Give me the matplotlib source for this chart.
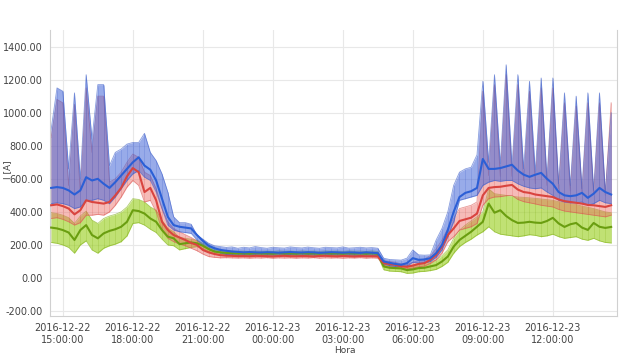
import numpy as np
import pandas as pd
import matplotlib
matplotlib.use('Agg')
import matplotlib.pyplot as plt
import matplotlib.dates as mdates
from matplotlib.ticker import FuncFormatter

# 15 min samples, 2016-12-22 14:30 -> 2016-12-23 14:30
t = pd.date_range('2016-12-22 14:30', periods=97, freq='15min')

# blue series (mean / low / high)
blue_mean = [545, 550, 545, 530, 505, 530, 610, 590, 600, 570, 545, 580, 620, 660, 700, 730, 680, 655, 590, 480,
             370, 320, 310, 305, 300, 260, 225, 195, 180, 170,
             165, 160, 158, 155, 157, 155, 154, 156, 155, 153, 155, 157, 155, 154, 156, 155, 152, 154, 156, 155,
             153, 155, 154, 152, 155, 153, 150,
             100, 92, 85, 80, 90, 120, 110, 112, 120, 150, 200, 290, 400, 490, 515, 525, 545, 720, 660, 660,
             665, 675, 685, 650, 625, 612, 625, 636, 600, 570, 520, 500, 495, 500, 515, 485, 510, 545, 520, 505]
blue_hi = [900, 1150, 1130, 660, 1120, 600, 1230, 840, 1170, 1170, 680, 760, 780, 810, 820, 820, 875, 760, 710, 630,
           520, 370, 335, 335, 325, 260, 235, 210, 195, 190,
           185, 188, 180, 186, 182, 190, 184, 180, 186, 183, 181, 188, 184, 182, 187, 183, 180, 186, 184, 182,
           188, 181, 183, 186, 182, 184, 180,
           120, 112, 110, 108, 120, 170, 140, 138, 140, 230, 300, 400, 560, 640, 660, 670, 745, 1190, 700, 1230,
           690, 1290, 680, 1230, 660, 1190, 640, 1210, 600, 1210, 570, 1120, 560, 1100, 540, 1120, 530, 1120, 520, 1000]
blue_lo = [450, 455, 450, 440, 420, 430, 470, 470, 480, 470, 450, 490, 540, 590, 630, 650, 610, 590, 520, 420,
           320, 290, 280, 275, 270, 230, 200, 175, 162, 152,
           142, 140, 138, 141, 139, 140, 137, 141, 139, 138, 140, 142, 139, 138, 141, 140, 137, 139, 141, 140,
           138, 140, 139, 137, 140, 138, 136,
           85, 75, 70, 68, 72, 95, 90, 92, 100, 125, 170, 250, 340, 470, 480, 490, 500, 560, 580, 590,
           585, 590, 590, 570, 555, 545, 540, 545, 520, 500, 470, 460, 455, 455, 460, 440, 450, 470, 455, 450]

# red series
red_mean = [440, 445, 435, 420, 385, 410, 470, 460, 455, 450, 460, 500, 545, 615, 665, 640, 520, 545, 470, 340,
            290, 260, 245, 230, 212, 200, 170, 155, 145, 138,
            135, 134, 132, 133, 131, 134, 133, 132, 130, 133, 134, 132, 131, 133, 132, 130, 133, 134, 132, 131,
            133, 132, 130, 133, 131, 132, 130,
            90, 85, 80, 70, 68, 75, 85, 90, 110, 140, 190, 260, 300, 345, 355, 365, 390, 500, 545, 550,
            552, 558, 563, 535, 520, 515, 505, 500, 495, 490, 475, 465, 460, 455, 450, 442, 440, 435, 430, 440]
red_hi = [850, 1080, 1060, 560, 1050, 520, 1150, 760, 1100, 1100, 580, 600, 640, 700, 750, 730, 640, 620, 540, 420,
          340, 300, 280, 262, 245, 225, 195, 175, 160, 150,
          150, 148, 147, 149, 146, 148, 147, 149, 146, 148, 147, 149, 146, 148, 147, 150, 146, 148, 147, 149,
          146, 148, 147, 149, 146, 148, 145,
          105, 100, 95, 85, 82, 95, 105, 115, 135, 175, 230, 300, 360, 420, 430, 440, 460, 1130, 620, 1170,
          615, 1230, 615, 1170, 590, 1130, 570, 1150, 560, 1150, 540, 1060, 525, 1040, 515, 1060, 505, 1060, 500, 1060]
red_lo = [360, 365, 355, 340, 320, 335, 380, 380, 385, 380, 400, 440, 490, 550, 590, 560, 460, 470, 400, 290,
          240, 220, 205, 195, 180, 165, 145, 130, 125, 122,
          123, 122, 121, 122, 120, 122, 121, 123, 120, 122, 121, 122, 120, 122, 121, 123, 120, 122, 121, 122,
          120, 122, 121, 123, 120, 122, 120,
          75, 70, 65, 58, 55, 60, 68, 72, 88, 110, 150, 220, 250, 290, 300, 310, 330, 440, 480, 490,
          492, 498, 500, 475, 462, 455, 448, 440, 435, 430, 415, 405, 400, 395, 390, 385, 380, 375, 370, 380]

# green series
green_mean = [305, 300, 290, 275, 230, 290, 320, 260, 240, 270, 285, 295, 310, 340, 410, 405, 390, 360, 340, 290,
              250, 240, 205, 210, 215, 210, 195, 175, 160, 155,
              152, 150, 148, 149, 147, 150, 148, 149, 147, 150, 148, 149, 147, 150, 148, 149, 147, 150, 148, 149,
              147, 150, 148, 149, 147, 150, 146,
              70, 62, 60, 58, 48, 52, 60, 62, 70, 78, 100, 130, 190, 230, 255, 280, 310, 340, 450, 395,
              410, 375, 350, 333, 335, 340, 335, 333, 345, 364, 330, 309, 325, 333, 305, 291, 333, 310, 303, 309]
green_hi = [395, 390, 380, 365, 330, 375, 405, 350, 330, 360, 375, 385, 400, 430, 480, 475, 460, 430, 410, 350,
            300, 280, 245, 240, 235, 228, 210, 190, 175, 168,
            166, 164, 162, 163, 161, 164, 162, 163, 161, 164, 162, 163, 161, 164, 162, 163, 161, 164, 162, 163,
            161, 164, 162, 163, 161, 164, 160,
            90, 85, 82, 80, 72, 78, 85, 88, 98, 108, 135, 170, 240, 290, 320, 345, 370, 400, 540, 510,
            505, 500, 495, 490, 488, 485, 482, 478, 474, 470, 462, 455, 450, 445, 435, 428, 420, 410, 400, 395]
green_lo = [215, 210, 200, 185, 150, 200, 225, 170, 150, 180, 195, 205, 220, 255, 330, 335, 320, 295, 275, 235,
            200, 195, 170, 178, 185, 190, 178, 160, 148, 142,
            140, 138, 136, 137, 135, 138, 136, 137, 135, 138, 136, 137, 135, 138, 136, 137, 135, 138, 136, 137,
            135, 138, 136, 137, 135, 138, 134,
            50, 42, 40, 38, 28, 30, 38, 40, 45, 52, 70, 95, 150, 190, 215, 235, 260, 280, 310, 280,
            265, 260, 255, 250, 255, 262, 258, 250, 255, 265, 250, 240, 245, 250, 235, 228, 240, 225, 215, 212]

tick_times = pd.date_range('2016-12-22 15:00', periods=8, freq='3h')
y_ticks = [-200, 0, 200, 400, 600, 800, 1000, 1200, 1400]

fig = plt.figure(figsize=(6.36, 3.57), dpi=100)
ax = fig.add_axes([0.0786, 0.1148, 0.8915, 0.801])

series = [
    (green_lo, green_hi, green_mean, '#9fd12a', '#7fae15', '#6a9e10', 0.65),
    (red_lo, red_hi, red_mean, '#ec6a63', '#d9534f', '#d9443f', 0.45),
    (blue_lo, blue_hi, blue_mean, '#4466d8', '#3a5cc8', '#2b5fd6', 0.55),
]
for lo, hi, mean, fill, edge, line, a in series:
    ax.fill_between(t, lo, hi, color=fill, alpha=a, lw=0, zorder=2)
    ax.vlines(t, lo, hi, color=edge, lw=0.5, alpha=0.3, zorder=2)
    ax.plot(t, lo, color=edge, lw=0.6, alpha=0.6, zorder=2)
    ax.plot(t, hi, color=edge, lw=0.6, alpha=0.6, zorder=2)
    ax.plot(t, mean, color=line, lw=1.5, zorder=3)

ax.set_xlim(pd.Timestamp('2016-12-22 14:27'), pd.Timestamp('2016-12-23 14:45'))
ax.set_ylim(-230, 1500)
ax.set_xticks(tick_times)
ax.xaxis.set_major_formatter(mdates.DateFormatter('%Y-%m-%d\n%H:%M:%S'))
ax.set_yticks(y_ticks)
ax.yaxis.set_major_formatter(FuncFormatter(lambda v, p: f'{v:.2f}'))
ax.tick_params(axis='both', length=0, labelsize=7, labelcolor='#444444', pad=5)
ax.grid(True, color='#e8e8e8', lw=0.8, zorder=0)
ax.set_axisbelow(True)

for s in ['top']:
    ax.spines[s].set_visible(False)
for s in ['left', 'bottom', 'right']:
    ax.spines[s].set_color('#d0d0d0')

ax.set_ylabel('I [A]', fontsize=6.5, color='#444444')
ax.yaxis.set_label_coords(-0.067, 0.51)
ax.set_xlabel('Hora', fontsize=6.5, color='#444444')
ax.xaxis.set_label_coords(0.52, -0.105)

fig.savefig('out.png', dpi=100)
